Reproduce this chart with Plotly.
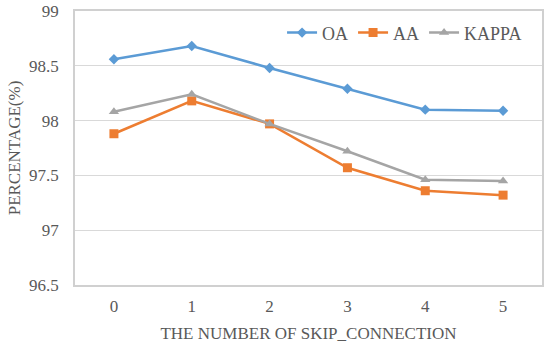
import plotly.graph_objects as go

categories = ["0", "1", "2", "3", "4", "5"]
oa = [98.56, 98.68, 98.48, 98.29, 98.10, 98.09]
aa = [97.88, 98.18, 97.97, 97.57, 97.36, 97.32]
kappa = [98.08, 98.24, 97.97, 97.72, 97.46, 97.45]
y_ticks = [96.5, 97, 97.5, 98, 98.5, 99]
y_tick_labels = ["96.5", "97", "97.5", "98", "98.5", "99"]

series = [
    ("OA", oa, "#5B9BD5", "diamond", 8),
    ("AA", aa, "#ED7D31", "square", 9),
    ("KAPPA", kappa, "#A5A5A5", "triangle-up", 9),
]

fig = go.Figure()
for name, vals, color, sym, size in series:
    fig.add_trace(go.Scatter(
        x=categories, y=vals, name=name, mode="lines+markers",
        line=dict(color=color, width=2.5),
        marker=dict(symbol=sym, size=size, color=color),
    ))

font_family = "Liberation Serif"
fs = 17
fig.update_layout(
    width=550, height=349,
    margin=dict(l=75, r=8, t=11, b=64, autoexpand=False),
    paper_bgcolor="white", plot_bgcolor="white",
    font=dict(family=font_family, size=fs, color="#595959"),
    legend=dict(orientation="h", x=0.968, xanchor="right", y=0.92, yanchor="middle",
                font=dict(family=font_family, size=18, color="#595959"), bgcolor="rgba(0,0,0,0)"),
    xaxis=dict(
        type="category", range=[-0.5, 5.5], showgrid=False, automargin=False,
        showline=True, linecolor="#D0D0D0", linewidth=1.5, mirror=True,
        ticks="outside", ticklen=5, tickcolor="rgba(0,0,0,0)",
        tickfont=dict(family=font_family, size=fs, color="#595959"),
        title=dict(text="THE NUMBER OF SKIP_CONNECTION", font=dict(family=font_family, size=fs, color="#595959"), standoff=12),
    ),
    yaxis=dict(
        range=[96.5, 99], tickvals=y_ticks, ticktext=y_tick_labels, automargin=False,
        ticklabeloverflow="allow",
        showgrid=True, gridcolor="#D9D9D9", gridwidth=1,
        showline=True, linecolor="#D0D0D0", linewidth=1.5, mirror=True,
        ticks="outside", ticklen=11, tickcolor="rgba(0,0,0,0)",
        tickfont=dict(family=font_family, size=fs, color="#595959"), zeroline=False,
        title=dict(text="PERCENTAGE(%)", font=dict(family=font_family, size=fs, color="#595959"), standoff=4),
    ),
)

fig.write_html("out.html", config={"displayModeBar": False},
               post_script="document.body.style.margin='0';")
